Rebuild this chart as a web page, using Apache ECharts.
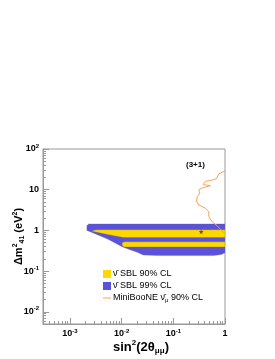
<!DOCTYPE html>
<html><head><meta charset="utf-8">
<script src="https://cdn.jsdelivr.net/npm/echarts@6/dist/echarts.min.js"></script>
<style>html,body{margin:0;padding:0;background:#fff}#c{width:275px;height:359px}</style>
</head><body><div id="c"></div>
<script>
// ---- data ----
const xTicks = [1e-3, 1e-2, 1e-1, 1];
const yTicks = [1e-2, 1e-1, 1, 10, 100];
const legendNames = ['ν̄ SBL 90% CL', 'ν̄ SBL 99% CL', 'MiniBooNE ν̄_μ 90% CL'];
const modelLabel = '(3+1)';
// SBL 99% CL region (sin^2 2theta, dm2)
const sbl99 = [
  [2.12e-3, 1.0], [2.12e-3, 1.3], [2.3e-3, 1.44], [1.0, 1.44], [1.0, 0.28],
  [0.85, 0.255], [0.6, 0.24], [0.05, 0.24], [2.6e-2, 0.248], [2.0e-2, 0.29],
  [1.4e-2, 0.34], [1.0e-2, 0.40], [5.2e-3, 0.62], [2.45e-3, 0.93]
];
// SBL 90% CL, upper island
const sbl90Upper = [
  [2.65e-3, 0.95], [2.8e-3, 1.0], [3.2e-3, 1.04], [1.0, 1.04], [1.0, 0.668],
  [1.09e-2, 0.668], [7e-3, 0.74], [4.5e-3, 0.83], [3e-3, 0.92]
];
// SBL 90% CL, lower island
const sbl90Lower = [
  [1.01e-2, 0.46], [1.05e-2, 0.51], [1.15e-2, 0.522], [1.0, 0.522], [1.0, 0.391],
  [1.15e-2, 0.391], [1.05e-2, 0.405]
];
// MiniBooNE anti-nu_mu 90% CL curve
const miniBooNE = [
  [0.993, 28.8], [0.76, 24.7], [0.686, 18.8], [0.525, 16.8], [0.42, 16.2], [0.378, 13.3],
  [0.525, 12.6], [0.486, 11.9], [0.362, 11.0], [0.311, 10.0], [0.325, 8.27], [0.29, 6.84],
  [0.281, 5.13], [0.311, 4.22], [0.42, 3.49], [0.486, 2.88], [0.486, 2.16], [0.566, 1.62],
  [0.708, 1.29], [0.82, 1.06], [0.993, 0.827]
];
const bestFit = [[0.346, 0.93]];

// ---- chart ----
const chart = echarts.init(document.getElementById('c'), null, {renderer: 'canvas'});
const frame = '#999';
const isPow = (v, list) => list.some(t => Math.abs(Math.log10(v) - Math.log10(t)) < 1e-6);
const fmtPow = (v) => {
  const e = Math.round(Math.log10(v));
  if (e === 0) return '1';
  if (e === 1) return '10';
  return '10{sup|' + e + '}';
};
const labRich = {
  sup: {fontSize: 6, fontWeight: 'bold', verticalAlign: 'top', lineHeight: 6, color: '#000', fontFamily: 'Liberation Sans'}
};
function polySeries(name, pts, color) {
  return {
    name: name, type: 'custom', coordinateSystem: 'cartesian2d', data: pts,
    itemStyle: {color: color}, silent: true,
    renderItem: function (params, api) {
      if (params.dataIndex !== 0) return null;
      const cs = params.coordSys;
      return {
        type: 'polygon',
        shape: {points: pts.map(p => api.coord(p))},
        style: {fill: color, stroke: 'rgba(110,110,110,0.55)', lineWidth: 0.6},
        clipPath: {type: 'rect', shape: {x: cs.x, y: cs.y, width: cs.width, height: cs.height}}
      };
    }
  };
}
const lineIcon = 'path://M0,0 M0,4.4 L10,4.4 L10,5.6 L0,5.6 Z M10,10';
const option = {
  animation: false,
  textStyle: {fontFamily: 'Liberation Sans'},
  grid: {left: 43, right: 50, top: 149, bottom: 35, outerBoundsMode: 'none', containLabel: false,
         show: true, borderColor: frame, borderWidth: 1, backgroundColor: 'transparent'},
  title: {text: modelLabel, left: 181, top: 156, textStyle: {fontSize: 8, fontWeight: 'bold', color: '#000'}},
  legend: {
    orient: 'vertical', left: 103, top: 269, itemWidth: 8, itemHeight: 8, itemGap: 2, padding: 0,
    data: [{name: legendNames[0], icon: 'rect'}, {name: legendNames[1], icon: 'rect'}, {name: legendNames[2], icon: lineIcon}],
    formatter: n => n.replace('_μ', '{sub|μ}'),
    textStyle: {fontSize: 9, color: '#000', padding: [0, 0, 0, -3], lineHeight: 10,
      rich: {sub: {fontSize: 6, verticalAlign: 'bottom', lineHeight: 6}}}
  },
  xAxis: {
    type: 'log', logBase: 10, min: 3e-4, max: 1,
    axisLine: {lineStyle: {color: frame}},
    axisTick: {inside: true, length: 6, lineStyle: {color: frame}},
    minorTick: {show: true, splitNumber: 9, length: 3, lineStyle: {color: frame}},
    splitLine: {show: false}, minorSplitLine: {show: false},
    axisLabel: {margin: 4, fontSize: 9, fontWeight: 'bold', color: '#000', lineHeight: 12,
      formatter: v => isPow(v, xTicks) ? fmtPow(v) : '', rich: labRich},
    name: 'sin{sup|2}(2θ{sub|μμ})', nameLocation: 'middle', nameGap: 15, nameMoveOverlap: false,
    nameTextStyle: {fontSize: 13, fontWeight: 'bold', color: '#000', lineHeight: 16, padding: [0, 0, 0, 14],
      rich: {sup: {fontSize: 8, fontWeight: 'bold', verticalAlign: 'top', lineHeight: 8},
             sub: {fontSize: 8, fontWeight: 'bold', verticalAlign: 'bottom', lineHeight: 8}}}
  },
  yAxis: {
    type: 'log', logBase: 10, min: 5e-3, max: 100,
    axisLine: {lineStyle: {color: frame}},
    axisTick: {inside: true, length: 6, lineStyle: {color: frame}},
    minorTick: {show: true, splitNumber: 9, length: 3, lineStyle: {color: frame}},
    splitLine: {show: false}, minorSplitLine: {show: false},
    axisLabel: {margin: 4, fontSize: 9, fontWeight: 'bold', color: '#000', lineHeight: 12,
      formatter: v => isPow(v, yTicks) ? fmtPow(v) : '', rich: labRich},
    name: 'Δm{sup|2}{sub|41} (eV{sup|2})', nameLocation: 'middle', nameGap: 17, nameMoveOverlap: false,
    nameTextStyle: {fontSize: 11, fontWeight: 'bold', color: '#000', lineHeight: 14,
      rich: {sup: {fontSize: 7, fontWeight: 'bold', verticalAlign: 'top', lineHeight: 7},
             sub: {fontSize: 7, fontWeight: 'bold', verticalAlign: 'bottom', lineHeight: 7}}}
  },
  series: [
    polySeries(legendNames[1], sbl99, '#5a52d9'),
    polySeries(legendNames[0], sbl90Upper, '#ffd700'),
    polySeries('sbl90b', sbl90Lower, '#ffd700'),
    {name: legendNames[2], type: 'line', data: miniBooNE, symbol: 'none', smooth: false,
     lineStyle: {color: '#f7a25a', width: 1}, itemStyle: {color: '#f7a25a'}, clip: true},
    {name: 'best', type: 'scatter', data: bestFit, symbol: 'path://M5,0 L6.2,3.6 L10,3.6 L7,5.9 L8.1,9.5 L5,7.3 L1.9,9.5 L3,5.9 L0,3.6 L3.8,3.6 Z',
     symbolSize: 5, itemStyle: {color: '#333'}}
  ]
};
chart.setOption(option);
</script>
</body></html>
